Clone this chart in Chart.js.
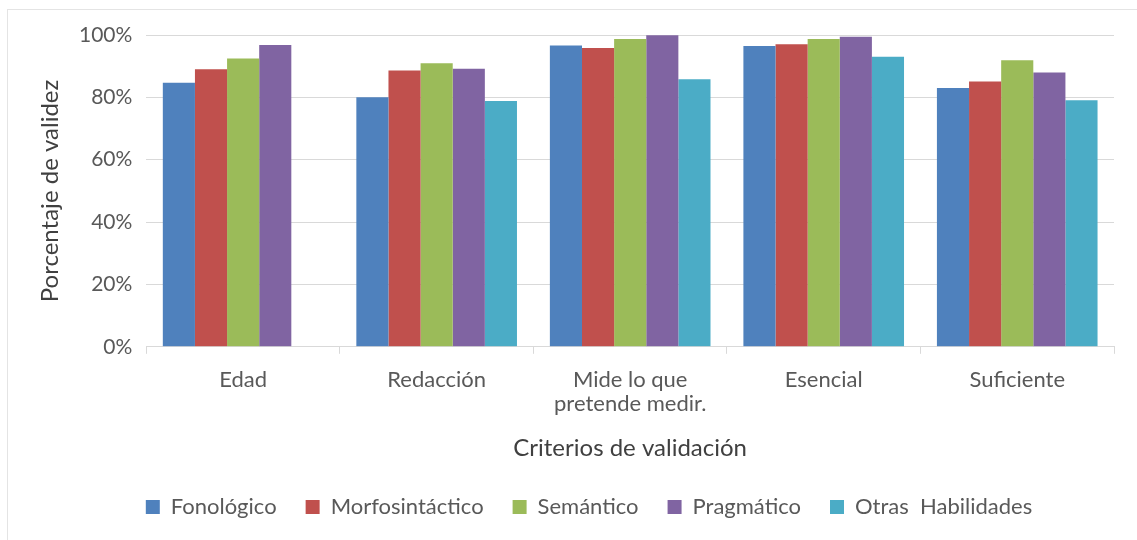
<!DOCTYPE html>
<html>
<head>
<meta charset="utf-8">
<script src="https://cdn.jsdelivr.net/npm/chart.js@4.4.1/dist/chart.umd.min.js"></script>
<style>
  html, body { margin: 0; padding: 0; background: #fff; }
  #wrap { position: relative; width: 1137px; height: 540px; overflow: hidden; }
  #frame { position: absolute; left: 7px; top: 9px; width: 1140px; height: 540px; border: 1px solid #e4e4e4; box-sizing: border-box; pointer-events: none; }
  canvas { position: absolute; left: 0; top: 0; }
</style>
</head>
<body>
<div id="wrap">
  <canvas id="c" width="1137" height="540"></canvas>
  <div id="frame"></div>
</div>
<script>
const categories = ['Edad', 'Redacción', ['Mide lo que', 'pretende medir.'], 'Esencial', 'Suficiente'];
const seriesNames = ['Fonológico', 'Morfosintáctico', 'Semántico', 'Pragmático', 'Otras  Habilidades'];
const fonologico = [84.7, 80.0, 96.6, 96.5, 83.0];
const morfosintactico = [89.0, 88.6, 95.8, 97.0, 85.1];
const semantico = [92.5, 90.9, 98.7, 98.7, 91.9];
const pragmatico = [96.8, 89.2, 99.9, 99.4, 88.0];
const otrasHabilidades = [null, 78.8, 85.8, 93.0, 79.1];
const yTicks = [0, 20, 40, 60, 80, 100];
const colors = ['#4F81BD', '#C0504D', '#9BBB59', '#8064A2', '#4BACC6'];

const values = [fonologico, morfosintactico, semantico, pragmatico, otrasHabilidades];
const FONT = 'Lato, "Open Sans", sans-serif';
const gray = '#595959';

const shiftLegend = {
  id: 'shiftLegend',
  afterLayout(chart) {
    if (chart.legend) { chart.legend.left += 13; chart.legend.right += 13; }
  }
};

new Chart(document.getElementById('c'), {
  type: 'bar',
  data: {
    labels: categories,
    datasets: seriesNames.map((n, i) => ({
      label: n,
      data: values[i],
      backgroundColor: colors[i],
      borderWidth: 0,
      barPercentage: 1.0,
      categoryPercentage: 0.83
    }))
  },
  options: {
    responsive: false,
    animation: false,
    layout: { padding: { top: 35, right: 23, left: 38, bottom: 12 } },
    scales: {
      x: {
        grid: { offset: true, drawOnChartArea: false, drawTicks: true, tickLength: 7, color: '#d9d9d9' },
        border: { display: true, color: '#d9d9d9' },
        ticks: { color: gray, font: { family: FONT, size: 22, lineHeight: 1.05 }, padding: 15 },
        title: { display: true, text: 'Criterios de validación', color: '#404040', font: { family: FONT, size: 24, lineHeight: 1 }, padding: { top: 6, bottom: 7 } }
      },
      y: {
        min: 0, max: 100,
        afterBuildTicks: (ax) => { ax.ticks = yTicks.map(v => ({ value: v })); },
        grid: { color: '#d9d9d9', drawTicks: false, lineWidth: 1 },
        border: { display: false },
        ticks: { color: gray, font: { family: FONT, size: 21 }, padding: 14, callback: v => v + '%' },
        title: { display: true, text: 'Porcentaje de validez', color: '#404040', font: { family: FONT, size: 24, lineHeight: 1 }, padding: { top: 0, bottom: 3 } }
      }
    },
    plugins: {
      legend: {
        position: 'bottom',
        labels: { color: gray, font: { family: FONT, size: 22 }, boxWidth: 14, boxHeight: 14, padding: 29 }
      },
      tooltip: { enabled: false }
    }
  },
  plugins: [shiftLegend]
});
</script>
</body>
</html>
